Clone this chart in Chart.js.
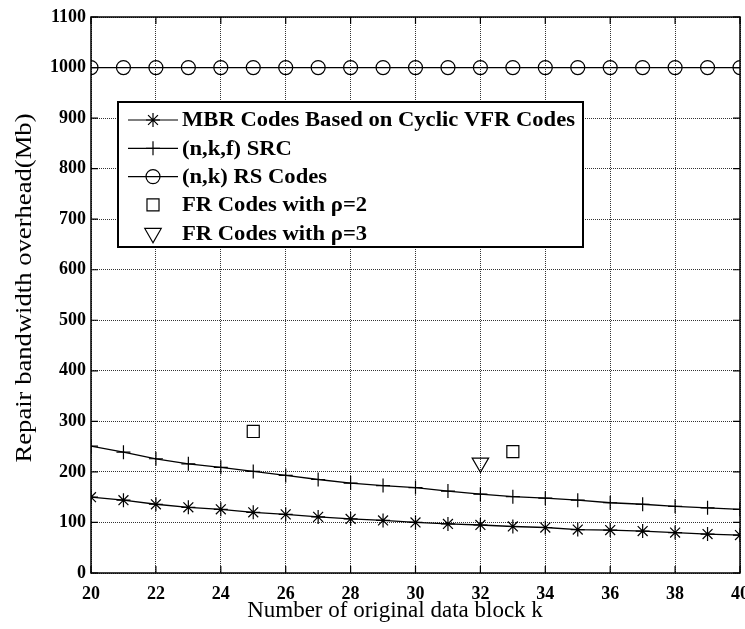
<!DOCTYPE html>
<html>
<head>
<meta charset="utf-8">
<script src="https://cdn.jsdelivr.net/npm/chart.js@4.4.0/dist/chart.umd.min.js"></script>
<style>
  html, body { margin: 0; padding: 0; background: #fff; overflow: hidden; }
  #wrap { width: 760px; height: 629px; }
</style>
</head>
<body>
<div id="wrap"><canvas id="chart" width="760" height="629"></canvas></div>
<script>
// number of original data blocks k
const kValues = [20, 21, 22, 23, 24, 25, 26, 27, 28, 29, 30, 31, 32, 33, 34, 35, 36, 37, 38, 39, 40];

// repair bandwidth overhead (Mb)
const mbrCyclicVfr = [150, 144, 136, 130, 126, 120, 116, 111, 107, 104, 100, 97, 95, 92, 90, 86, 85, 83, 80, 77, 75];
const srcValues = [251, 239, 226, 216, 209, 201, 193, 185, 178, 173, 169, 162, 156, 151, 148, 144, 139, 136, 132, 129, 126];
const rsValues = [1000, 1000, 1000, 1000, 1000, 1000, 1000, 1000, 1000, 1000, 1000, 1000, 1000, 1000, 1000, 1000, 1000, 1000, 1000, 1000, 1000];

const frRho2K = [25, 33];
const frRho2 = [280, 240];
const frRho3K = [32];
const frRho3 = [218];

const seriesLabels = [
  'MBR Codes Based on Cyclic VFR Codes',
  '(n,k,f) SRC',
  '(n,k) RS Codes',
  'FR Codes with \u03c1=2',
  'FR Codes with \u03c1=3'
];
const xTitle = 'Number of original data block k';
const yTitle = 'Repair bandwidth overhead(Mb)';

const toPoints = (xs, ys) => xs.map((x, i) => ({ x: x, y: ys[i] }));

// legend box drawn inside the plot, like the original figure
const legendBox = {
  id: 'legendBox',
  afterDatasetsDraw(chart, args, opts) {
    const ctx = chart.ctx;
    ctx.save();
    ctx.fillStyle = '#fff';
    ctx.fillRect(opts.left, opts.top, opts.width, opts.height);
    ctx.lineWidth = 2;
    ctx.strokeStyle = '#000';
    ctx.strokeRect(opts.left, opts.top, opts.width, opts.height);

    ctx.font = opts.font;
    const scaleX = opts.textWidth / ctx.measureText(chart.data.datasets[0].label).width;

    chart.data.datasets.forEach((ds, i) => {
      const y = opts.top + opts.firstRow + i * opts.rowGap;
      const mx = opts.left + opts.markerX;
      ctx.strokeStyle = '#000';
      ctx.lineWidth = 1.2;
      if (ds.showLine !== false) {
        ctx.beginPath();
        ctx.moveTo(opts.left + opts.lineFrom, y);
        ctx.lineTo(opts.left + opts.lineTo, y);
        ctx.stroke();
      }
      ctx.fillStyle = 'rgba(0,0,0,0)';
      Chart.helpers.drawPoint(ctx, {
        pointStyle: ds.pointStyle,
        radius: ds.pointRadius,
        rotation: ds.pointRotation || 0,
        borderWidth: 1.2
      }, mx, y);

      ctx.save();
      ctx.translate(opts.left + opts.textX, y + 1);
      ctx.scale(scaleX, 1);
      ctx.fillStyle = '#000';
      ctx.font = opts.font;
      ctx.textBaseline = 'middle';
      ctx.textAlign = 'left';
      ctx.fillText(ds.label, 0, 0);
      ctx.restore();
    });
    ctx.restore();
  }
};

// solid frame round the plot, short inward ticks, and the two axis titles
const frame = {
  id: 'frame',
  afterDraw(chart, args, opts) {
    const { ctx, chartArea: a, scales } = chart;
    ctx.save();
    ctx.strokeStyle = '#000';
    ctx.lineWidth = 1.2;
    ctx.beginPath();
    scales.x.ticks.forEach(t => {
      const px = scales.x.getPixelForValue(t.value);
      ctx.moveTo(px, a.bottom); ctx.lineTo(px, a.bottom - 7);
      ctx.moveTo(px, a.top); ctx.lineTo(px, a.top + 7);
    });
    scales.y.ticks.forEach(t => {
      const py = scales.y.getPixelForValue(t.value);
      ctx.moveTo(a.left, py); ctx.lineTo(a.left + 7, py);
      ctx.moveTo(a.right, py); ctx.lineTo(a.right - 7, py);
    });
    ctx.stroke();
    ctx.lineWidth = 1.5;
    ctx.strokeRect(a.left, a.top, a.right - a.left, a.bottom - a.top);

    ctx.fillStyle = '#000';
    ctx.textAlign = 'center';
    ctx.textBaseline = 'middle';

    ctx.font = opts.xFont;
    ctx.fillText(opts.xText, opts.xCenter, opts.xMiddle);

    ctx.font = opts.yFont;
    const stretch = opts.yLength / ctx.measureText(opts.yText).width;
    ctx.translate(opts.yMiddle, opts.yCenter);
    ctx.rotate(-Math.PI / 2);
    ctx.scale(stretch, 1);
    ctx.fillText(opts.yText, 0, 0);
    ctx.restore();
  }
};

new Chart(document.getElementById('chart'), {
  type: 'line',
  data: {
    datasets: [
      {
        label: seriesLabels[0],
        data: toPoints(kValues, mbrCyclicVfr),
        borderColor: '#000',
        borderWidth: 1.3,
        pointStyle: 'star',
        pointRadius: 7,
        pointBorderColor: '#000',
        pointBorderWidth: 1.2,
        tension: 0
      },
      {
        label: seriesLabels[1],
        data: toPoints(kValues, srcValues),
        borderColor: '#000',
        borderWidth: 1.3,
        pointStyle: 'cross',
        pointRadius: 7,
        pointBorderColor: '#000',
        pointBorderWidth: 1.2,
        tension: 0
      },
      {
        label: seriesLabels[2],
        data: toPoints(kValues, rsValues),
        borderColor: '#000',
        borderWidth: 1.3,
        pointStyle: 'circle',
        pointRadius: 7,
        pointBorderColor: '#000',
        pointBackgroundColor: 'rgba(0,0,0,0)',
        pointBorderWidth: 1.2,
        tension: 0
      },
      {
        label: seriesLabels[3],
        data: toPoints(frRho2K, frRho2),
        showLine: false,
        pointStyle: 'rect',
        pointRadius: 8.5,
        pointBorderColor: '#000',
        pointBackgroundColor: 'rgba(0,0,0,0)',
        pointBorderWidth: 1.2
      },
      {
        label: seriesLabels[4],
        data: toPoints(frRho3K, frRho3),
        showLine: false,
        pointStyle: 'triangle',
        pointRotation: 180,
        pointRadius: 9.5,
        pointBorderColor: '#000',
        pointBackgroundColor: 'rgba(0,0,0,0)',
        pointBorderWidth: 1.2
      }
    ]
  },
  options: {
    responsive: false,
    animation: false,
    devicePixelRatio: 1,
    layout: {
      padding: { left: 0, right: 20, top: 17, bottom: 0 }
    },
    plugins: {
      legend: { display: false },
      tooltip: { enabled: false },
      legendBox: {
        left: 118, top: 102, width: 465, height: 145,
        firstRow: 18, rowGap: 28.3,
        lineFrom: 10, lineTo: 60, markerX: 35, textX: 64,
        textWidth: 393,
        font: 'bold 21px "Liberation Serif"'
      },
      frame: {
        xText: xTitle, xCenter: 395, xMiddle: 611,
        xFont: '23px "Liberation Serif"',
        yText: yTitle, yMiddle: 25, yCenter: 288, yLength: 349,
        yFont: '23px "Liberation Serif"'
      }
    },
    scales: {
      x: {
        type: 'linear',
        min: 20,
        max: 40,
        ticks: {
          stepSize: 2,
          padding: 11,
          color: '#000',
          font: { family: 'Liberation Serif', size: 18, weight: 'bold' }
        },
        grid: {
          color: '#333',
          lineWidth: 1,
          drawTicks: false
        },
        border: { display: false, dash: [1, 1] },
        afterFit(scale) {
          scale.height = 56;
          scale.paddingLeft = 0;
          scale.paddingRight = 0;
        }
      },
      y: {
        min: 0,
        max: 1100,
        ticks: {
          stepSize: 100,
          padding: 5,
          color: '#000',
          font: { family: 'Liberation Serif', size: 18, weight: 'bold' },
          callback: v => String(v)
        },
        grid: {
          color: '#333',
          lineWidth: 1,
          drawTicks: false
        },
        border: { display: false, dash: [1, 1] },
        afterFit(scale) {
          scale.width = 91;
          scale.paddingTop = 0;
          scale.paddingBottom = 0;
        }
      }
    }
  },
  plugins: [legendBox, frame]
});
</script>
</body>
</html>
